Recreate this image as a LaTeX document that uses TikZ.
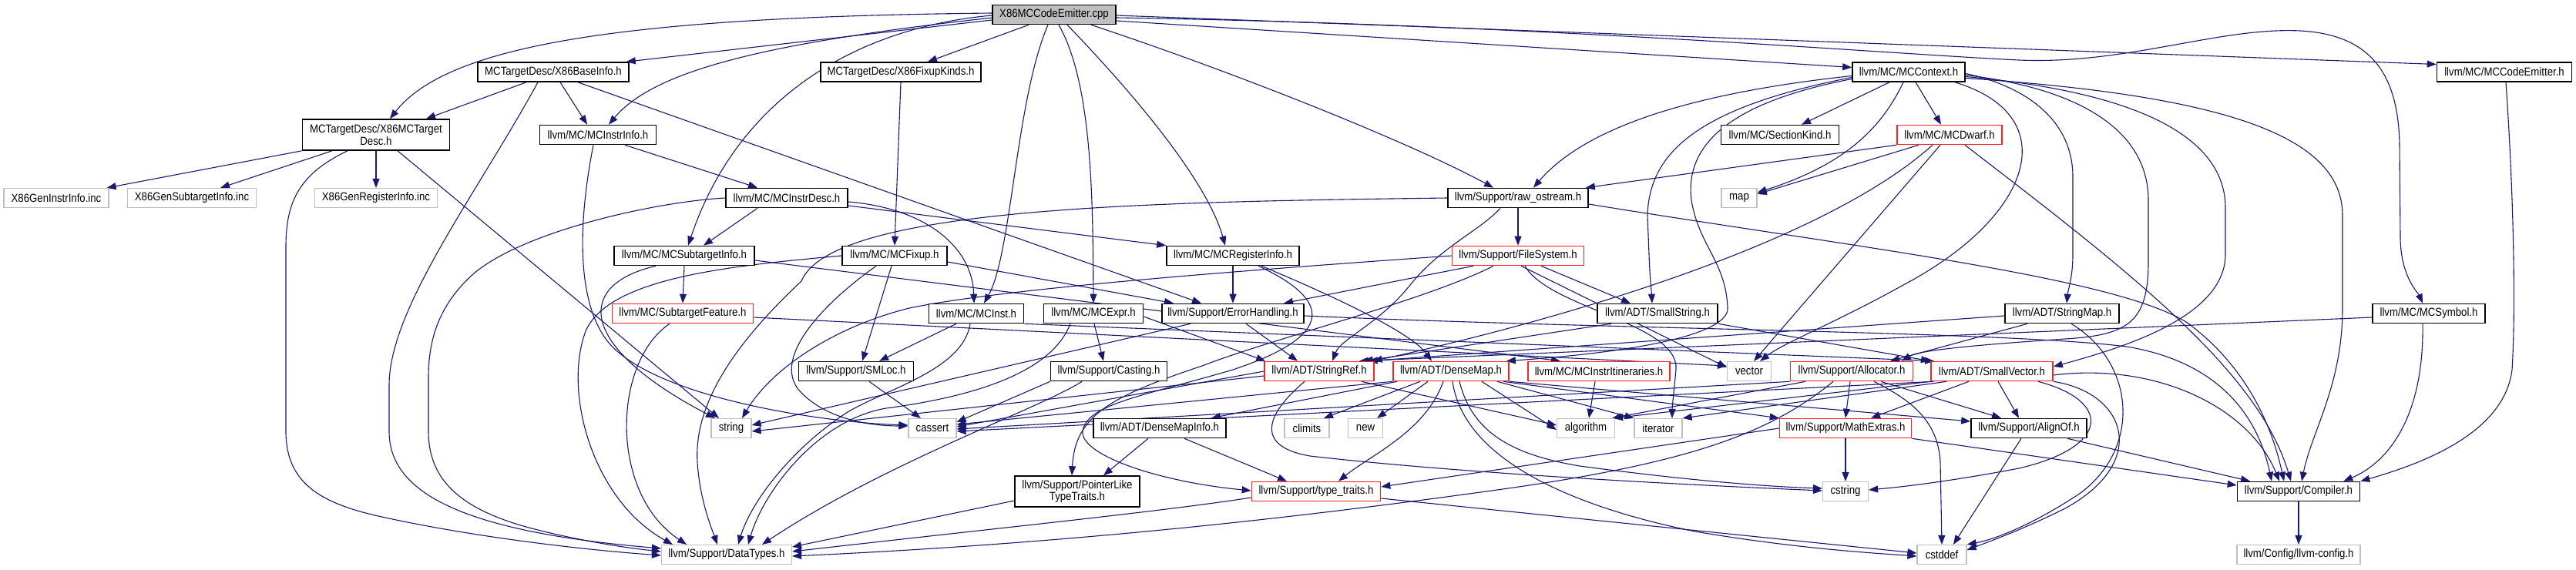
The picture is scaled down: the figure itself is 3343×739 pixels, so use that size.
\documentclass[tikz,border=0pt]{standalone}
\usepackage{fontspec}
\usepackage{graphicx}
\usetikzlibrary{arrows.meta}
\newfontfamily\nf{Liberation Sans}
\newcommand{\nfont}{\nf\fontsize{15}{15.5}\selectfont}
\newcommand{\tx}[1]{\scalebox{0.88}[1]{#1}}
\definecolor{eb}{HTML}{191970}
\definecolor{gbd}{HTML}{BFBFBF}
\definecolor{rbd}{HTML}{FF2020}
\pgfdeclarelayer{bg}
\pgfsetlayers{bg,main}
\tikzset{
 bx/.style={draw=black, line width=1.6pt, fill=white, rectangle, inner sep=0pt, minimum height=25pt, font=\nfont},
 rb/.style={bx, draw=rbd},
 gb/.style={bx, draw=gbd, line width=1.2pt},
 ln/.style={draw=eb, line width=1.1pt, -{Triangle[length=12pt,width=9pt]}},
}
\begin{document}
\begin{tikzpicture}[x=1pt,y=-1pt]
\useasboundingbox (0,0) rectangle (3343,739);
% ---------------- nodes
\node[bx, fill=gbd, minimum width=160pt] (cpp) at (1368,19) {\tx{X86MCCodeEmitter.cpp}};
\node[bx, minimum width=196pt] (bi) at (718,93.5) {\tx{MCTargetDesc/X86BaseInfo.h}};
\node[bx, minimum width=208pt] (fk) at (1169,93.5) {\tx{MCTargetDesc/X86FixupKinds.h}};
\node[bx, minimum width=146pt] (ctx) at (2477,93.5) {\tx{llvm/MC/MCContext.h}};
\node[bx, minimum width=175pt] (ce) at (3250,93.5) {\tx{llvm/MC/MCCodeEmitter.h}};
\node[bx, minimum width=191pt, minimum height=40pt, align=center] (td) at (488,175) {\tx{MCTargetDesc/X86MCTarget}\\\tx{Desc.h}};
\node[bx, minimum width=151pt] (ii) at (776,175) {\tx{llvm/MC/MCInstrInfo.h}};
\node[bx, minimum width=153pt] (sk) at (2310,175) {\tx{llvm/MC/SectionKind.h}};
\node[rb, minimum width=136pt] (dw) at (2530,175) {\tx{llvm/MC/MCDwarf.h}};
\node[gb, minimum width=136pt] (gi) at (73,257) {\tx{X86GenInstrInfo.inc}};
\node[gb, minimum width=167pt] (gs) at (249,257) {\tx{X86GenSubtargetInfo.inc}};
\node[gb, minimum width=159pt] (gr) at (488,257) {\tx{X86GenRegisterInfo.inc}};
\node[bx, minimum width=158pt] (id) at (1021,257) {\tx{llvm/MC/MCInstrDesc.h}};
\node[bx, minimum width=182pt] (ro) at (1970,257) {\tx{llvm/Support/raw\_ostream.h}};
\node[gb, minimum width=46pt] (map) at (2257,257) {\tx{map}};
\node[bx, minimum width=182pt] (si) at (888,332) {\tx{llvm/MC/MCSubtargetInfo.h}};
\node[bx, minimum width=136pt] (fx) at (1161,332) {\tx{llvm/MC/MCFixup.h}};
\node[bx, minimum width=172pt] (ri) at (1600,332) {\tx{llvm/MC/MCRegisterInfo.h}};
\node[rb, minimum width=171pt] (fs) at (1970,332) {\tx{llvm/Support/FileSystem.h}};
\node[rb, minimum width=183pt] (sf) at (886,407) {\tx{llvm/MC/SubtargetFeature.h}};
\node[bx, minimum width=123pt] (inst) at (1267,407) {\tx{llvm/MC/MCInst.h}};
\node[bx, minimum width=129pt] (ex) at (1419,407) {\tx{llvm/MC/MCExpr.h}};
\node[bx, minimum width=184pt] (eh) at (1600,407) {\tx{llvm/Support/ErrorHandling.h}};
\node[bx, minimum width=156pt] (ss) at (2151,407) {\tx{llvm/ADT/SmallString.h}};
\node[bx, minimum width=148pt] (sm) at (2676,407) {\tx{llvm/ADT/StringMap.h}};
\node[bx, minimum width=146pt] (sym) at (3152,407) {\tx{llvm/MC/MCSymbol.h}};
\node[bx, minimum width=149pt] (smloc) at (1111,482) {\tx{llvm/Support/SMLoc.h}};
\node[bx, minimum width=151pt] (cast) at (1439,482) {\tx{llvm/Support/Casting.h}};
\node[rb, minimum width=142pt] (sr) at (1712,482) {\tx{llvm/ADT/StringRef.h}};
\node[rb, minimum width=150pt] (dm) at (1883,482) {\tx{llvm/ADT/DenseMap.h}};
\node[rb, minimum width=184pt] (itin) at (2075,482) {\tx{llvm/MC/MCInstrItineraries.h}};
\node[gb, minimum width=57pt] (vec) at (2270,482) {\tx{vector}};
\node[rb, minimum width=159pt] (alloc) at (2403,482) {\tx{llvm/Support/Allocator.h}};
\node[rb, minimum width=158pt] (sv) at (2585,482) {\tx{llvm/ADT/SmallVector.h}};
\node[gb, minimum width=52pt] (str) at (949,556) {\tx{string}};
\node[gb, minimum width=62pt] (cas) at (1210,556) {\tx{cassert}};
\node[bx, minimum width=172pt] (dmi) at (1505,556) {\tx{llvm/ADT/DenseMapInfo.h}};
\node[gb, minimum width=58pt] (cl) at (1696,556) {\tx{climits}};
\node[gb, minimum width=45pt] (new) at (1772,556) {\tx{new}};
\node[gb, minimum width=75pt] (alg) at (2058,556) {\tx{algorithm}};
\node[gb, minimum width=62pt] (it) at (2152,556) {\tx{iterator}};
\node[rb, minimum width=171pt] (me) at (2395,556) {\tx{llvm/Support/MathExtras.h}};
\node[bx, minimum width=150pt] (ao) at (2633,556) {\tx{llvm/Support/AlignOf.h}};
\node[bx, minimum width=162pt, minimum height=40pt, align=center] (pl) at (1398,638) {\tx{llvm/Support/PointerLike}\\\tx{TypeTraits.h}};
\node[rb, minimum width=167pt] (tt) at (1708,638) {\tx{llvm/Support/type\_traits.h}};
\node[gb, minimum width=59pt] (cstr) at (2395,638) {\tx{cstring}};
\node[bx, minimum width=159pt] (comp) at (2983,638) {\tx{llvm/Support/Compiler.h}};
\node[gb, minimum width=169pt] (dt) at (943,720) {\tx{llvm/Support/DataTypes.h}};
\node[gb, minimum width=64pt] (cd) at (2520,720) {\tx{cstddef}};
\node[gb, minimum width=160pt] (cfg) at (2983,720) {\tx{llvm/Config/llvm-config.h}};
% ---------------- edges
\begin{pgfonlayer}{bg}
\fill[white] (0,0) rectangle (3343,739);
% cpp
\draw[ln] ([yshift=2]cpp.west) .. controls (800,22) and (580,60) .. ([xshift=18]td.north);
\draw[ln] ([yshift=-7]cpp.west) -- ([xshift=-4]bi.north east);
\draw[ln] ([yshift=-4]cpp.west) .. controls (1000,55) and (850,90) .. ([xshift=14]ii.north);
\draw[ln] ([xshift=-33]cpp.south) -- ([xshift=35]fk.north);
\draw[ln] ([yshift=-1]cpp.west) .. controls (1120,35) and (960,120) .. ([xshift=5]si.north);
\draw[ln] ([xshift=-8]cpp.south) .. controls (1318,130) and (1313,330) .. ([xshift=10]inst.north);
\draw[ln] ([xshift=6]cpp.south) .. controls (1418,110) and (1418,260) .. (ex.north);
\draw[ln] ([xshift=17]cpp.south) .. controls (1460,110) and (1565,230) .. ([xshift=-10]ri.north);
\draw[ln] ([xshift=48]cpp.south) .. controls (1620,100) and (1840,190) .. ([xshift=-32]ro.north);
\draw[ln] ([yshift=-8]cpp.east) -- ([yshift=6]ctx.west);
\draw[ln] ([yshift=-4]cpp.east) .. controls (2000,32) and (2450,70) .. (2620,78) .. controls (2760,84) and (2880,35) .. (2985,40) .. controls (3080,45) and (3113,100) .. (3114,190) -- (3115,310) .. controls (3116,360) and (3138,380) .. ([xshift=-8]sym.north);
\draw[ln] ([yshift=-1]cpp.east) -- ([yshift=10]ce.west);
% X86BaseInfo
\draw[ln] ([xshift=-35]bi.south) -- ([xshift=65]td.north);
\draw[ln] ([xshift=-20]bi.south) .. controls (620,250) and (505,400) .. (505,500) -- (505,560) .. controls (505,640) and (600,690) .. ([yshift=8]dt.west);
\draw[ln] ([xshift=9]bi.south) -- ([xshift=-14]ii.north);
\draw[ln] ([xshift=32]bi.south) -- ([xshift=-41]eh.north);
% X86FixupKinds
\draw[ln] (fk.south) -- (fx.north);
% X86MCTargetDesc
\draw[ln] (td.south west) -- ([xshift=-3]gi.north east);
\draw[ln] ([xshift=-57]td.south) -- ([xshift=37]gs.north);
\draw[ln] (td.south) -- (gr.north);
\draw[ln] ([xshift=-37]td.south) .. controls (390,225) and (371,260) .. (371,320) -- (371,560) .. controls (371,630) and (420,655) .. (500,672) .. controls (620,698) and (760,714) .. ([yshift=-1]dt.west);
\draw[ln] ([xshift=28]td.south) -- ([xshift=-16]str.north);
% MCInstrInfo
\draw[ln] ([xshift=35]ii.south) -- ([xshift=-38]id.north);
\draw[ln] ([xshift=-6]ii.south) .. controls (752,280) and (745,390) .. (790,445) .. controls (850,515) and (1060,548) .. ([yshift=4]cas.west);
% MCInstrDesc
\draw[ln] (id.west) .. controls (850,262) and (680,300) .. (615,355) .. controls (570,395) and (556,440) .. (556,490) -- (556,560) .. controls (556,625) and (600,662) .. (690,686) .. controls (760,704) and (820,712) .. ([yshift=4]dt.west);
\draw[ln] ([xshift=-38]id.south) -- ([xshift=25]si.north);
\draw[ln] ([yshift=-5]id.east) .. controls (1200,270) and (1262,320) .. ([xshift=-3]inst.north);
\draw[ln] ([yshift=-10]id.east) -- (ri.north west);
% MCSubtargetInfo
\draw[ln] (si.south) -- (sf.north);
\draw[ln] ([xshift=-37]si.south) .. controls (745,370) and (750,450) .. ([xshift=-21]str.north);
\draw[ln] ([yshift=-6]si.east) -- ([xshift=-50]itin.north);
% SubtargetFeature
\draw[ln] ([yshift=-5]sf.east) -- ([yshift=7]vec.west);
\draw[ln] ([xshift=-17]sf.south) .. controls (795,470) and (790,640) .. ([xshift=-52]dt.north);
% MCFixup
\draw[ln] (fx.west) .. controls (950,345) and (790,360) .. (760,430) .. controls (730,510) and (770,650) .. ([xshift=-70]dt.north);
\draw[ln] ([xshift=-4]fx.south) -- ([xshift=8]smloc.north);
\draw[ln] ([xshift=-24]fx.south) .. controls (1060,400) and (1000,470) .. (1040,510) .. controls (1075,545) and (1130,553) .. ([yshift=3]cas.west);
\draw[ln] ([yshift=-8]fx.east) -- ([xshift=-77]eh.north);
% MCInst
\draw[ln] ([xshift=-26]inst.south) -- ([xshift=30]smloc.north);
\draw[ln] ([xshift=-8]inst.south) .. controls (1250,480) and (1150,505) .. (1100,535) .. controls (1030,580) and (975,650) .. ([xshift=15]dt.north);
\draw[ln] (inst.south east) -- ([xshift=-75]sv.north);
% MCExpr
\draw[ln] ([xshift=1]ex.south) -- ([xshift=-7]cast.north);
\draw[ln] ([xshift=-30]ex.south) .. controls (1370,470) and (1300,510) .. (1150,530) .. controls (1060,545) and (990,640) .. ([xshift=28]dt.north);
\draw[ln] ([yshift=-4]ex.east) -- ([xshift=2]sr.north west);
% ErrorHandling
\draw[ln] ([xshift=-55]eh.south) -- ([yshift=4]str.east);
\draw[ln] ([xshift=17]eh.south) -- ([xshift=-28]sr.north);
\draw[ln] ([yshift=-3]eh.east) .. controls (2100,428) and (2600,430) .. (2760,450) .. controls (2880,470) and (2930,540) .. ([xshift=-35]comp.north);
% MCRegisterInfo
\draw[ln] (ri.south) -- (eh.north);
\draw[ln] ([xshift=37]ri.south) .. controls (1720,380) and (1830,430) .. ([xshift=-25]dm.north);
\draw[ln] ([xshift=33]ri.south) .. controls (1740,395) and (1720,440) .. (1600,480) .. controls (1480,515) and (1410,525) .. (1405,560) .. controls (1402,590) and (1500,625) .. ([yshift=1]tt.west);
% raw_ostream
\draw[ln] (ro.south) -- (fs.north);
\draw[ln] (ro.west) .. controls (1500,262) and (1080,268) .. (1040,365) .. controls (960,440) and (900,520) .. (905,600) .. controls (908,650) and (925,690) .. ([xshift=-12]dt.north);
\draw[ln] ([xshift=-23]ro.south) .. controls (1920,300) and (1870,320) .. (1830,370) .. controls (1790,420) and (1740,440) .. ([xshift=17]sr.north);
\draw[ln] ([yshift=-8]ro.east) .. controls (2400,320) and (2750,360) .. (2840,420) .. controls (2920,480) and (2950,560) .. ([xshift=-19]comp.north);
% FileSystem
\draw[ln] (fs.west) .. controls (1600,352) and (1300,375) .. (1180,400) .. controls (1080,425) and (1000,480) .. ([xshift=14]str.north);
\draw[ln] ([xshift=-58]fs.south) -- ([xshift=66]eh.north);
\draw[ln] ([xshift=-32]fs.south) .. controls (1850,390) and (1650,440) .. (1560,475) .. controls (1440,515) and (1395,540) .. ([xshift=-7]pl.north);
\draw[ln] ([xshift=9]fs.south) .. controls (2010,400) and (2180,420) .. (2175,480) .. controls (2172,510) and (2170,530) .. ([xshift=18]it.north);
\draw[ln] ([xshift=4]fs.south) -- ([yshift=5]vec.west);
\draw[ln] ([xshift=30]fs.south) -- ([xshift=-35]ss.north);
% MCContext
\draw[ln] ([yshift=-5]ctx.west) .. controls (2250,115) and (2070,150) .. ([xshift=20]ro.north);
\draw[ln] ([xshift=-25]ctx.south) -- ([xshift=28]sk.north);
\draw[ln] ([xshift=9]ctx.south) -- ([xshift=-11]dw.north);
\draw[ln] ([xshift=-7]ctx.south) .. controls (2440,170) and (2390,215) .. ([yshift=7]map.east);
\draw[ln] ([xshift=60]ctx.south) .. controls (2680,150) and (2640,280) .. (2470,370) .. controls (2380,420) and (2315,445) .. ([xshift=14]vec.north);
\draw[ln] ([yshift=-7]ctx.west) .. controls (2200,140) and (2140,200) .. (2138,280) -- (2140,330) .. controls (2141,360) and (2143,375) .. ([xshift=-7]ss.north);
\draw[ln] ([yshift=-9]ctx.west) .. controls (2260,130) and (2185,180) .. (2195,260) .. controls (2205,320) and (2240,340) .. (2242,400) .. controls (2243,430) and (2150,455) .. ([xshift=-4]dm.north east);
\draw[ln] ([yshift=-2]ctx.east) .. controls (2620,110) and (2690,150) .. (2690,230) -- (2690,330) .. controls (2690,360) and (2684,375) .. ([xshift=6]sm.north);
\draw[ln] ([yshift=-4]ctx.east) .. controls (2700,115) and (2788,170) .. (2788,260) -- (2788,340) .. controls (2788,420) and (2760,435) .. (2680,440) .. controls (2560,448) and (2490,455) .. ([xshift=65]alloc.north);
\draw[ln] ([yshift=-6]ctx.east) .. controls (2780,120) and (2888,180) .. (2888,270) -- (2888,330) .. controls (2888,410) and (2760,450) .. ([yshift=6]sv.east);
\draw[ln] ([yshift=-8]ctx.east) .. controls (2900,125) and (3040,180) .. (3040,280) -- (3040,400) .. controls (3040,500) and (3000,560) .. ([xshift=4]comp.north);
% MCDwarf
\draw[ln] (dw.south west) -- ([xshift=-4]ro.north east);
\draw[ln] ([xshift=-40]dw.south) -- ([yshift=5]map.east);
\draw[ln] ([xshift=-12]dw.south) -- ([xshift=6]vec.north);
\draw[ln] ([xshift=-22]dw.south) .. controls (2350,330) and (1960,430) .. ([xshift=-2]sr.north east);
\draw[ln] ([xshift=20]dw.south) .. controls (2760,350) and (2930,480) .. ([xshift=-10]comp.north);
% StringMap, SmallString
\draw[ln] ([xshift=-45]sm.south) -- ([xshift=50]alloc.north);
\draw[ln] ([yshift=-3]sm.west) -- ([xshift=-8]sr.north east);
\draw[ln] ([xshift=12]sm.south) .. controls (2770,470) and (2780,580) .. (2700,640) .. controls (2640,680) and (2590,700) .. (cd.north east);
\draw[ln] ([xshift=-60]ss.south) -- ([xshift=-14]sr.north east);
\draw[ln] (ss.south east) -- ([xshift=-80]sv.north);
% MCInstrItineraries
\draw[ln] ([xshift=-5]itin.south) -- ([xshift=4]alg.north);
% StringRef
\draw[ln] (sr.west) -- ([yshift=2]cas.east);
\draw[ln] ([yshift=-6]sr.west) -- ([yshift=-4]str.east);
\draw[ln] ([xshift=-19]sr.south) .. controls (1640,540) and (1630,580) .. (1700,592) .. controls (1900,615) and (2200,630) .. ([yshift=1]cstr.west);
\draw[ln] ([xshift=55]sr.south) -- ([yshift=4]alg.west);
% DenseMap
\draw[ln] ([xshift=-70]dm.south) -- ([xshift=67]dmi.north);
\draw[ln] ([xshift=-40]dm.south) -- ([xshift=22]cl.north);
\draw[ln] ([xshift=-30]dm.south) -- ([xshift=15]new.north);
\draw[ln] ([xshift=-10]dm.south) .. controls (1850,560) and (1780,590) .. ([xshift=29]tt.north);
\draw[ln] ([xshift=2]dm.south) .. controls (1900,600) and (2050,660) .. (2200,690) .. controls (2330,712) and (2430,718) .. ([yshift=-2]cd.west);
\draw[ln] ([xshift=11]dm.south) .. controls (1910,560) and (1960,590) .. (2050,605) .. controls (2200,625) and (2300,632) .. ([yshift=4]cstr.west);
\draw[ln] ([xshift=40]dm.south) -- ([yshift=-2]alg.west);
\draw[ln] ([xshift=60]dm.south) -- (it.north west);
\draw[ln] ([xshift=-8]dm.south east) -- (me.north west);
\draw[ln] (dm.south east) -- ([yshift=9]ao.west);
\draw[ln] (dm.south west) -- ([yshift=5]cas.east);
% Allocator
\draw[ln] ([xshift=-60]alloc.south) -- ([xshift=-4]alg.north east);
\draw[ln] ([xshift=-2]alloc.south) -- (me.north);
\draw[ln] ([xshift=29]alloc.south) .. controls (2470,515) and (2515,540) .. (2518,600) -- (cd.north);
\draw[ln] ([xshift=38]alloc.south) -- ([xshift=-36]ao.north);
\draw[ln] (alloc.south west) -- ([yshift=-1]cas.east);
\draw[ln] ([xshift=-24]alloc.south) .. controls (2300,560) and (2200,600) .. (1950,635) .. controls (1700,670) and (1400,705) .. ([yshift=-2]dt.east);
% SmallVector
\draw[ln] ([xshift=-59]sv.south) -- (it.north east);
\draw[ln] ([xshift=-30]sv.south) -- ([xshift=33]me.north);
\draw[ln] ([xshift=8]sv.south) -- ([xshift=-13]ao.north);
\draw[ln] (sv.south west) -- ([xshift=-2]alg.north east);
\draw[ln] ([xshift=4]sv.south west) -- ([yshift=-4]cas.east);
\draw[ln] ([xshift=60]sv.south) .. controls (2740,520) and (2740,580) .. (2620,608) .. controls (2530,625) and (2470,632) .. ([yshift=2]cstr.east);
\draw[ln] (sv.south east) .. controls (2760,510) and (2790,600) .. (2680,660) .. controls (2630,685) and (2590,700) .. ([yshift=6]cd.east);
\draw[ln] ([yshift=-5]sv.east) .. controls (2800,470) and (2920,530) .. ([xshift=-25]comp.north);
% MathExtras, AlignOf
\draw[ln] (me.south) -- (cstr.north);
\draw[ln] (me.west) -- ([yshift=6]tt.east);
\draw[ln] (me.south east) -- ([yshift=8]comp.west);
\draw[ln] ([xshift=-10]ao.south) -- ([xshift=15]cd.north);
\draw[ln] ([xshift=50]ao.south) -- ([xshift=-63]comp.north);
% DenseMapInfo and others
\draw[ln] ([xshift=-15]dmi.south) -- ([xshift=34]pl.north);
\draw[ln] ([xshift=32]dmi.south) -- ([xshift=-38]tt.north);
\draw[ln] ([xshift=17]smloc.south) -- ([xshift=-15]cas.north);
\draw[ln] (cast.south west) -- ([yshift=8]cas.east);
\draw[ln] ([xshift=-35]cast.south) .. controls (1350,530) and (1150,600) .. ([xshift=46]dt.north);
\draw[ln] ([yshift=-12]pl.west) -- ([yshift=10]dt.east);
\draw[ln] ([yshift=-8]tt.west) .. controls (1500,665) and (1300,685) .. ([yshift=4]dt.east);
\draw[ln] ([yshift=-9]tt.east) -- ([yshift=2]cd.west);
% MCSymbol, MCCodeEmitter, Compiler
\draw[ln] ([yshift=-5]sym.west) -- ([xshift=-20]sr.north east);
\draw[ln] ([xshift=-8]sym.south) .. controls (3146,540) and (3100,600) .. ([xshift=-22]comp.north east);
\draw[ln] ([xshift=2]ce.south) .. controls (3262,250) and (3265,400) .. (3260,480) .. controls (3250,560) and (3150,600) .. (comp.north east);
\draw[ln] (comp.south) -- (cfg.north);
\end{pgfonlayer}
\end{tikzpicture}
\end{document}
